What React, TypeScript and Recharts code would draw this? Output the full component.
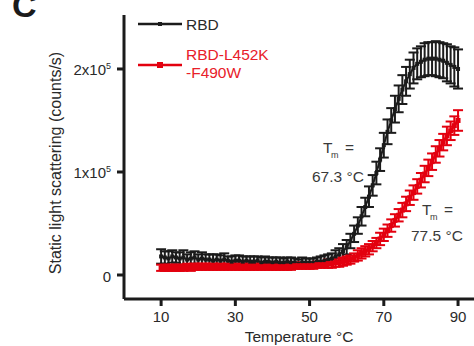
import { ComposedChart, Line, XAxis, YAxis, ErrorBar } from 'recharts';

const temps = [
  10, 11, 12, 13, 14, 15, 16, 17, 18, 19, 20,
  21, 22, 23, 24, 25, 26, 27, 28, 29, 30,
  31, 32, 33, 34, 35, 36, 37, 38, 39, 40,
  41, 42, 43, 44, 45, 46, 47, 48, 49, 50,
  51, 52, 53, 54, 55, 56, 57, 58, 59, 60,
  61, 62, 63, 64, 65, 66, 67, 68, 69, 70,
  71, 72, 73, 74, 75, 76, 77, 78, 79, 80,
  81, 82, 83, 84, 85, 86, 87, 88, 89, 90,
];

// RBD, counts/s
const rbd = [
  18000, 17000, 16000, 18000, 17000, 16000, 17000, 15000, 16000, 17000, 15000,
  16000, 15000, 15000, 14000, 15000, 14000, 15000, 14000, 13000, 14000,
  14000, 13000, 14000, 13000, 13000, 14000, 12000, 13000, 13000, 12000,
  13000, 12000, 12000, 13000, 12000, 12000, 11000, 12000, 12000, 12000,
  12000, 13000, 13000, 14000, 15000, 16000, 18000, 20000, 23000, 27000,
  33000, 40000, 48000, 57000, 66000, 76000, 87000, 99000, 112000, 126000,
  139000, 150000, 161000, 171000, 180000, 188000, 195000, 201000, 205000, 207000,
  209000, 210000, 210000, 210000, 209000, 208000, 206000, 204000, 202000, 200000,
];

const rbdErr = [
  7000, 6000, 7000, 6000, 5000, 6000, 7000, 5000, 6000, 6000, 5000,
  6000, 5000, 5000, 6000, 5000, 5000, 6000, 4000, 5000, 5000,
  5000, 5000, 4000, 5000, 5000, 4000, 5000, 5000, 4000, 5000,
  4000, 5000, 4000, 4000, 5000, 4000, 4000, 5000, 4000, 4000,
  4000, 4000, 5000, 5000, 5000, 5000, 6000, 6000, 7000, 7000,
  7000, 8000, 8000, 9000, 9000, 10000, 10000, 11000, 11000, 12000,
  12000, 12000, 13000, 13000, 14000, 14000, 14000, 15000, 15000, 15000,
  16000, 16000, 16000, 17000, 17000, 17000, 18000, 18000, 19000, 19000,
];

// RBD-L452K-F490W, counts/s
const mutant = [
  7000, 7000, 7000, 7000, 7000, 7000, 7000, 8000, 7000, 8000, 8000,
  8000, 8000, 8000, 8000, 8000, 8000, 8000, 8000, 8000, 8000,
  8000, 8000, 8000, 8000, 8000, 8000, 8000, 8000, 8000, 8000,
  8000, 8000, 8000, 8000, 8000, 9000, 9000, 9000, 9000, 9000,
  9000, 10000, 10000, 10000, 11000, 11000, 12000, 12000, 13000, 14000,
  15000, 17000, 19000, 21000, 23000, 25000, 28000, 31000, 35000, 39000,
  43000, 48000, 53000, 58000, 63000, 69000, 75000, 80000, 86000, 92000,
  98000, 104000, 110000, 117000, 123000, 129000, 135000, 140000, 145000, 150000,
];

const mutantErr = [
  3000, 3000, 3000, 3000, 3000, 3000, 3000, 3000, 3000, 3000, 3000,
  3000, 3000, 3000, 3000, 3000, 3000, 3000, 3000, 3000, 3000,
  3000, 3000, 3000, 3000, 3000, 3000, 3000, 3000, 3000, 3000,
  3000, 3000, 3000, 3000, 3000, 3000, 3000, 3000, 3000, 3000,
  3000, 3000, 3000, 3000, 4000, 4000, 4000, 4000, 4000, 4000,
  4000, 4000, 5000, 5000, 5000, 5000, 5000, 5000, 6000, 6000,
  6000, 6000, 6000, 6000, 7000, 7000, 7000, 7000, 7000, 7000,
  8000, 8000, 8000, 8000, 8000, 8000, 9000, 9000, 9000, 10000,
];

const xTicks = [10, 30, 50, 70, 90];
const yTicks = [0, 100000, 200000];

const data = temps.map((t, i) => ({
  temp: t,
  rbd: rbd[i],
  rbdErr: rbdErr[i],
  mutant: mutant[i],
  mutantErr: mutantErr[i],
}));

const FONT = '"Liberation Sans", Arial, sans-serif';
const BLACK = '#1b1b1b';
const RED = '#e3000f';
const TEXT = '#2a2a2a';

const XTick = (props: any) => {
  const { x, y, payload } = props;
  return (
    <text x={x} y={y + 14} textAnchor="middle" fontSize={15} fill={TEXT} fontFamily={FONT}>
      {payload.value}
    </text>
  );
};

const YTick = (props: any) => {
  const { x, y, payload } = props;
  const v = payload.value;
  if (v === 0) {
    return (
      <text x={x - 4} y={y + 7} textAnchor="end" fontSize={15} fill={TEXT} fontFamily={FONT}>
        0
      </text>
    );
  }
  return (
    <text x={x - 4} y={y + 6} textAnchor="end" fontSize={15} fill={TEXT} fontFamily={FONT}>
      {`${v / 100000}x10`}
      <tspan dy={-6} fontSize={9}>5</tspan>
    </text>
  );
};

const blackDot = (props: any) => (
  <rect key={`b-${props.index}`} x={props.cx - 2} y={props.cy - 2} width={4} height={4} fill={BLACK} />
);

const redDot = (props: any) => (
  <rect key={`r-${props.index}`} x={props.cx - 2.5} y={props.cy - 2.5} width={5} height={5} fill={RED} />
);

export default function App() {
  return (
    <div style={{ position: 'absolute', left: 0, top: 0, width: 474, height: 346, background: '#fff', overflow: 'hidden' }}>
      <ComposedChart width={474} height={346} data={data} margin={{ top: 15, right: 0, bottom: 0, left: 0 }}>
        <XAxis
          dataKey="temp"
          type="number"
          domain={[0, 94.3]}
          ticks={xTicks}
          height={47}
          tickSize={7}
          axisLine={{ stroke: BLACK, strokeWidth: 3 }}
          tickLine={{ stroke: BLACK, strokeWidth: 3 }}
          tick={<XTick />}
        />
        <YAxis
          type="number"
          domain={[-23300, 252400]}
          ticks={yTicks}
          width={124}
          tickSize={7}
          axisLine={{ stroke: BLACK, strokeWidth: 3 }}
          tickLine={{ stroke: BLACK, strokeWidth: 3 }}
          tick={<YTick />}
        />
        <Line
          dataKey="rbd"
          stroke={BLACK}
          strokeWidth={2}
          dot={blackDot}
          isAnimationActive={false}
        >
          <ErrorBar dataKey="rbdErr" width={5} strokeWidth={2} stroke={BLACK} direction="y" />
        </Line>
        <Line
          dataKey="mutant"
          stroke={RED}
          strokeWidth={2.5}
          dot={redDot}
          isAnimationActive={false}
        >
          <ErrorBar dataKey="mutantErr" width={5} strokeWidth={2} stroke={RED} direction="y" />
        </Line>
      </ComposedChart>
      <svg
        width={474}
        height={346}
        style={{ position: 'absolute', left: 0, top: 0, pointerEvents: 'none' }}
        fontFamily={FONT}
      >
        <text x={12} y={17} fontSize={34} fontWeight="bold" fill={BLACK}>C</text>

        <line x1={138} y1={24} x2={182} y2={24} stroke={BLACK} strokeWidth={2.5} />
        <rect x={158} y={22} width={4} height={4} fill={BLACK} />
        <text x={186} y={30} fontSize={15.5} fill={TEXT}>RBD</text>

        <line x1={138} y1={65} x2={182} y2={65} stroke={RED} strokeWidth={2.5} />
        <rect x={157} y={62} width={6} height={6} fill={RED} />
        <text x={186} y={60} fontSize={15.5} fill="#e8202a">RBD-L452K</text>
        <text x={186} y={78} fontSize={15.5} fill="#e8202a">-F490W</text>

        <text x={323} y={153} fontSize={15.5} fill="#3a3a3a">T</text>
        <text x={331} y={158} fontSize={9} fill="#3a3a3a">m</text>
        <text x={345} y={153} fontSize={15.5} fill="#3a3a3a">=</text>
        <text x={312} y={182} fontSize={15.5} fill="#3a3a3a">67.3 °C</text>

        <text x={422} y={215} fontSize={15.5} fill="#3a3a3a">T</text>
        <text x={430} y={220} fontSize={9} fill="#3a3a3a">m</text>
        <text x={444} y={215} fontSize={15.5} fill="#3a3a3a">=</text>
        <text x={411} y={241} fontSize={15.5} fill="#3a3a3a">77.5 °C</text>

        <text
          x={0}
          y={0}
          transform="translate(61,163) rotate(-90)"
          textAnchor="middle"
          fontSize={16}
          fill={TEXT}
        >
          Static light scattering (counts/s)
        </text>
        <text x={299} y={342} textAnchor="middle" fontSize={15.5} fill={TEXT}>
          Temperature °C
        </text>
      </svg>
    </div>
  );
}
